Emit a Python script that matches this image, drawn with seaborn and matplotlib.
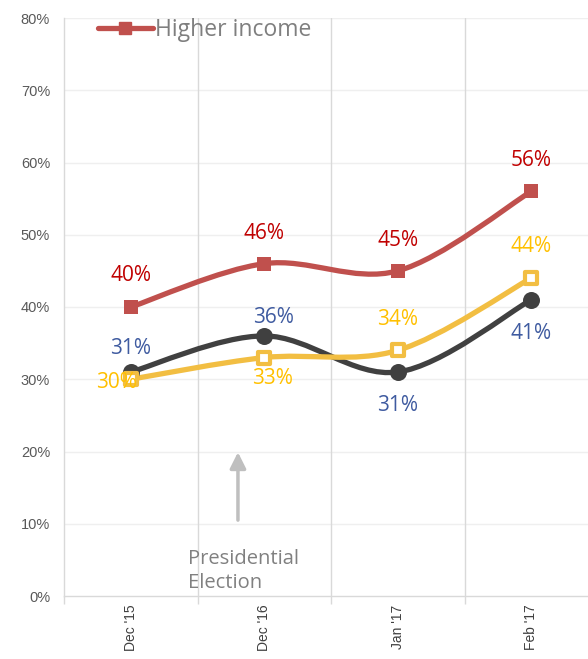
import matplotlib
matplotlib.use("Agg")
import matplotlib.pyplot as plt
import seaborn as sns
import numpy as np
import pandas as pd
from matplotlib.path import Path
from matplotlib.patches import PathPatch
from matplotlib.lines import Line2D
from matplotlib.ticker import FuncFormatter, FixedLocator

categories = ["Dec '15", "Dec '16", "Jan '17", "Feb '17"]
higher_income = [40, 46, 45, 56]
middle_income = [31, 36, 31, 41]
lower_income = [30, 33, 34, 44]
y_ticks = [0, 10, 20, 30, 40, 50, 60, 70, 80]

sns.set_theme(style="white")
plt.rcParams['font.family'] = ['Open Sans', 'DejaVu Sans']

fig = plt.figure(figsize=(5.88, 6.59), dpi=100)
ax = fig.add_axes([64/588, 1 - 596/659, (598-64)/588, (596-18)/659])

xs = np.arange(len(categories))

def smooth_path(x, y):
    pts = np.column_stack([x, y]).astype(float)
    n = len(pts)
    verts = [pts[0]]
    codes = [Path.MOVETO]
    for i in range(n - 1):
        p0 = pts[max(i - 1, 0)]
        p1 = pts[i]
        p2 = pts[i + 1]
        p3 = pts[min(i + 2, n - 1)]
        c1 = p1 + (p2 - p0) / 6.0
        c2 = p2 - (p3 - p1) / 6.0
        verts += [c1, c2, p2]
        codes += [Path.CURVE4] * 3
    return Path(verts, codes)

series = [
    ("Higher income", higher_income, "#C0504D", "s", "#C0504D", "#C00000"),
    ("Middle income", middle_income, "#404040", "o", "#404040", "#3F5BA0"),
    ("Lower income", lower_income, "#F2BE42", "s", "white", "#FFC000"),
]

for name, vals, col, mk, mfc, lblcol in series:
    v = np.array(vals) / 100.0
    ax.add_patch(PathPatch(smooth_path(xs, v), facecolor="none", edgecolor=col,
                           lw=3.8, capstyle="round", zorder=3))
    df = pd.DataFrame({"x": xs, "y": v})
    if mk == "o":
        sns.scatterplot(data=df, x="x", y="y", ax=ax, color=col, marker="o", s=150,
                        edgecolor=col, linewidth=0, zorder=4)
    elif mfc == "white":
        sns.scatterplot(data=df, x="x", y="y", ax=ax, color="white", marker="s", s=70,
                        edgecolor=col, linewidth=3, zorder=4)
    else:
        sns.scatterplot(data=df, x="x", y="y", ax=ax, color=col, marker="s", s=110,
                        edgecolor=col, linewidth=0, zorder=4)

# data labels: offsets in points (dx, dy)
offsets = {
    "Higher income": [(0, 23), (0, 22), (0, 22), (0, 22)],
    "Middle income": [(0, 17), (7, 13), (0, -24), (0, -24)],
    "Lower income": [(-10, -2), (6, -15), (0, 22), (0, 23)],
}
for name, vals, col, mk, mfc, lblcol in series:
    for i, val in enumerate(vals):
        dx, dy = offsets[name][i]
        ax.annotate(f"{val}%", (xs[i], val / 100.0), xytext=(dx, dy),
                    textcoords="offset points", ha="center", va="center",
                    fontsize=15, color=lblcol, zorder=5)

ax.set_xlim(-0.5, len(categories) - 0.5)
ax.set_ylim(0, 0.8)
ax.yaxis.set_major_locator(FixedLocator([t / 100 for t in y_ticks]))
ax.yaxis.set_major_formatter(FuncFormatter(lambda v, p: f"{v*100:.0f}%"))
ax.set_xticks(xs)
ax.set_xticklabels(categories, rotation=90, fontsize=10, color="#404040",
                   family=["Liberation Sans", "DejaVu Sans"])
for lab in ax.get_yticklabels():
    lab.set_fontsize(10.5)
    lab.set_color("#595959")
    lab.set_family(["Liberation Sans", "DejaVu Sans"])
ax.set_xlabel("")
ax.set_ylabel("")

# grid
for t in y_ticks[1:]:
    ax.axhline(t / 100, color="#EFEFEF", lw=1, zorder=0)
for b in np.arange(0.5, len(categories) - 0.5, 1.0):
    ax.axvline(b, color="#D9D9D9", lw=1, zorder=0)
ax.tick_params(axis="x", which="major", length=0, pad=6)
ax.tick_params(axis="y", which="major", length=0, pad=10)
ax.set_xticks(np.arange(-0.5, len(categories), 1.0), minor=True)
ax.tick_params(axis="x", which="minor", length=6, color="#D9D9D9", width=1, direction="out", bottom=True)

for s in ["top", "right"]:
    ax.spines[s].set_visible(False)
ax.spines["left"].set_color("#D9D9D9")
ax.spines["bottom"].set_color("#D9D9D9")
ax.spines["left"].set_linewidth(1)
ax.spines["bottom"].set_linewidth(1)

# annotation arrow
ax.annotate("", xy=(0.803, 0.199), xytext=(0.803, 0.105),
            arrowprops=dict(arrowstyle="-|>,head_length=0.8,head_width=0.4",
                            color="#BFBFBF", lw=2.5, shrinkA=0, shrinkB=0), zorder=2)
ax.text(0.43, 0.065, "Presidential\nElection", ha="left", va="top",
        fontsize=14.5, color="#808080", linespacing=1.25, zorder=2)

# legend
handle = Line2D([0], [0], color="#C0504D", lw=3.8, marker="s", markersize=9,
                markerfacecolor="#C0504D", markeredgecolor="#C0504D")
leg = ax.legend([handle], ["Higher income"], loc="upper left",
                bbox_to_anchor=(0.025, 1.035), frameon=False, fontsize=16.5,
                handlelength=2.4, handletextpad=0.1, labelcolor="#7F7F7F")

fig.savefig("out.png", dpi=100)
